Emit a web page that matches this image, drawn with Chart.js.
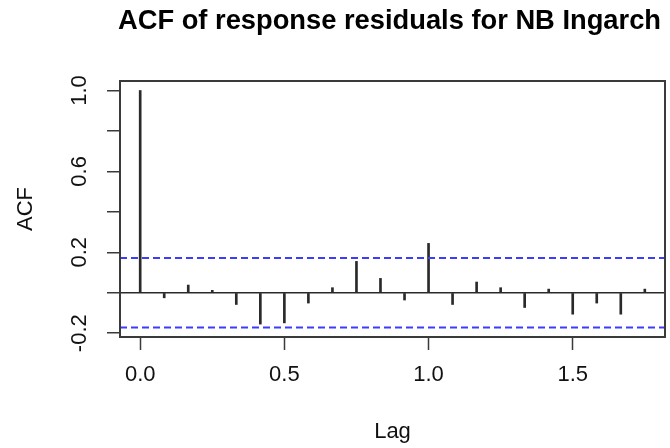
<!DOCTYPE html>
<html><head><meta charset="utf-8">
<script src="https://cdn.jsdelivr.net/npm/chart.js@4/dist/chart.umd.min.js"></script>
<style>html,body{margin:0;padding:0;background:#fff}#wrap{width:670px;height:448px;position:relative}</style>
</head><body><div id="wrap"><canvas id="c" width="670" height="448"></canvas></div>
<script>
// Data
const lags = [0, 0.0833, 0.1667, 0.25, 0.3333, 0.4167, 0.5, 0.5833, 0.6667, 0.75, 0.8333, 0.9167,
              1.0, 1.0833, 1.1667, 1.25, 1.3333, 1.4167, 1.5, 1.5833, 1.6667, 1.75];
const acfValues = [1.0, -0.025, 0.038, 0.012, -0.058, -0.155, -0.149, -0.051, 0.025, 0.155, 0.071, -0.036,
                   0.244, -0.058, 0.053, 0.025, -0.073, 0.018, -0.106, -0.051, -0.106, 0.018];
const ciBound = 0.172;
const xTicks = [0, 0.5, 1.0, 1.5];
const xTickLabels = ['0.0', '0.5', '1.0', '1.5'];
const yTicks = [-0.2, 0, 0.2, 0.4, 0.6, 0.8, 1.0];
const yTickLabels = ['-0.2', '', '0.2', '', '0.6', '', '1.0'];
const titleText = 'ACF of response residuals for NB Ingarch';
const xTitle = 'Lag';
const yTitle = 'ACF';

const xRange = [-0.07, 1.82];
const yRange = [-0.2188, 1.047];
const FONT = '"Liberation Sans", Arial, sans-serif';

const framePlugin = {
  id: 'frame',
  afterDraw(chart) {
    const {ctx, chartArea: a} = chart;
    ctx.save();
    ctx.strokeStyle = '#3a3a3a';
    ctx.lineWidth = 2;
    ctx.strokeRect(a.left, a.top, a.right - a.left, a.bottom - a.top);
    ctx.fillStyle = '#000';
    ctx.font = 'bold 27.3px ' + FONT;
    ctx.textAlign = 'center';
    ctx.textBaseline = 'alphabetic';
    ctx.fillText(titleText, (a.left + a.right) / 2 - 3, 28.5);
    ctx.restore();
  }
};

const ciLine = (v) => ({
  type: 'line',
  data: [{x: xRange[0], y: v}, {x: xRange[1], y: v}],
  borderColor: '#3c3cff',
  borderWidth: 2,
  borderDash: [7, 4],
  pointRadius: 0,
  fill: false,
  order: 0
});

new Chart(document.getElementById('c'), {
  type: 'bar',
  data: {
    datasets: [
      {
        type: 'bar',
        data: lags.map((l, i) => ({x: l, y: acfValues[i]})),
        backgroundColor: '#2a2a2a',
        borderWidth: 0,
        barThickness: 2,
        grouped: false,
        order: 1
      },
      ciLine(ciBound),
      ciLine(-ciBound)
    ]
  },
  options: {
    responsive: false,
    animation: false,
    devicePixelRatio: 1,
    layout: {padding: {top: 81, right: 5, left: 0, bottom: 0}},
    plugins: {legend: {display: false}, title: {display: false}, tooltip: {enabled: false}},
    scales: {
      x: {
        type: 'linear',
        min: xRange[0], max: xRange[1],
        offset: false,
        afterBuildTicks: (s) => { s.ticks = xTicks.map(v => ({value: v})); },
        afterFit: (s) => { s.height = 111; },
        ticks: {
          callback: (v) => { const i = xTicks.indexOf(v); return i >= 0 ? xTickLabels[i] : ''; },
          font: {family: FONT, size: 22}, color: '#111', padding: 12, maxRotation: 0, autoSkip: false
        },
        grid: {offset: false, drawOnChartArea: false, drawTicks: true, tickLength: 13, tickColor: '#3a3a3a', tickWidth: 1.5},
        border: {display: false},
        title: {display: true, text: xTitle, font: {family: FONT, size: 22}, color: '#111', padding: {top: 0, bottom: 3}}
      },
      y: {
        type: 'linear',
        min: yRange[0], max: yRange[1],
        afterBuildTicks: (s) => { s.ticks = yTicks.map(v => ({value: v})); },
        afterFit: (s) => { s.width = 120; },
        ticks: {
          callback: (v) => { const i = yTicks.findIndex(t => Math.abs(t - v) < 1e-9); return i >= 0 ? yTickLabels[i] : ''; },
          font: {family: FONT, size: 22}, color: '#111', padding: 8, minRotation: 90, maxRotation: 90,
          crossAlign: 'center', autoSkip: false
        },
        grid: {
          drawOnChartArea: true, drawTicks: true, tickLength: 13, tickColor: '#3a3a3a', tickWidth: 1.5,
          color: (c) => (c.tick && Math.abs(c.tick.value) < 1e-9) ? '#2a2a2a' : 'rgba(0,0,0,0)', lineWidth: 1.5
        },
        border: {display: false},
        title: {display: true, text: yTitle, font: {family: FONT, size: 22}, color: '#111', padding: {top: 13, bottom: 0}}
      }
    }
  },
  plugins: [framePlugin]
});
</script></body></html>
